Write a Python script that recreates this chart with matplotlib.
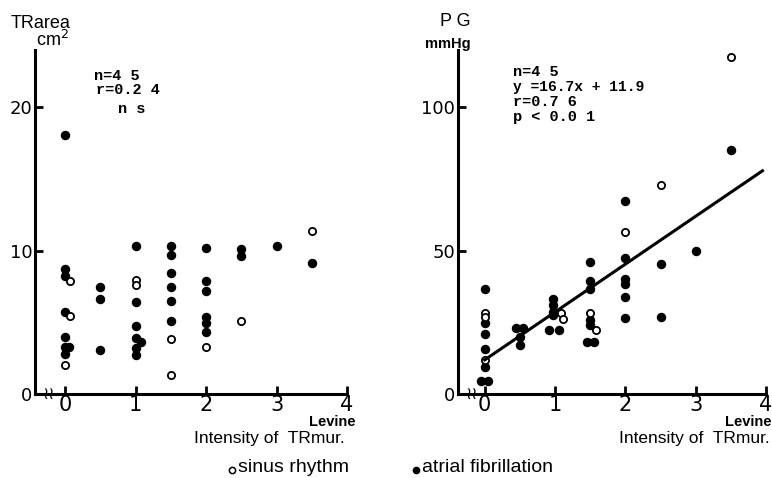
import numpy as np
import matplotlib
matplotlib.use("Agg")
import matplotlib.pyplot as plt
from matplotlib.lines import Line2D

# left panel: TR area (cm2) vs intensity of TR murmur (Levine)
area_af_x = [0, 0, 0, 0, 0, 0, 0.05, 0, 0.5, 0.5, 0.5,
             1, 1, 1, 1, 1.07, 1, 1,
             1.5, 1.5, 1.5, 1.5, 1.5, 1.5,
             2, 2, 2, 2, 2, 2, 2.5, 2.5, 3, 3.5]
area_af_y = [18.1, 8.75, 8.2, 5.75, 4.0, 3.3, 3.3, 2.8, 7.45, 6.65, 3.05,
             10.35, 6.4, 4.75, 3.9, 3.65, 3.2, 2.7,
             10.3, 9.7, 8.45, 7.45, 6.5, 5.1,
             10.2, 7.85, 7.2, 5.35, 4.95, 4.35, 10.15, 9.65, 10.35, 9.15]
area_sr_x = [0.07, 0.07, 0, 1, 1, 1.5, 1.5, 2, 2.5, 3.5]
area_sr_y = [7.85, 5.45, 2.0, 7.95, 7.6, 3.85, 1.35, 3.3, 5.1, 11.4]

# right panel: pressure gradient (mmHg) vs intensity
pg_af_x = [0, 0, 0, 0, 0, -0.05, 0.05, 0.45, 0.55, 0.5, 0.5,
           0.97, 0.97, 0.97, 0.97, 0.92, 1.05,
           1.5, 1.5, 1.5, 1.5, 1.5, 1.45, 1.55,
           2, 2, 2, 2, 2, 2, 2.5, 2.5, 3, 3.5]
pg_af_y = [36.8, 24.6, 20.9, 15.7, 9.5, 4.5, 4.5, 22.9, 22.9, 20.0, 17.1,
           33.3, 31.0, 28.7, 27.5, 22.5, 22.5,
           46.0, 39.5, 36.5, 25.8, 24.0, 18.2, 18.2,
           67.4, 47.3, 40.0, 38.2, 33.9, 26.6, 45.3, 26.9, 49.9, 85.0]
pg_sr_x = [0, 0, 0, 1.09, 1.11, 1.5, 1.58, 2, 2.5, 3.5]
pg_sr_y = [28.3, 26.9, 11.8, 28.1, 26.0, 28.1, 22.3, 56.6, 72.8, 117.5]

slope, intercept = 16.7, 11.9
fit_x = [0, 3.95]

x_ticks = [0, 1, 2, 3, 4]
area_ticks = [0, 10, 20]
pg_ticks = [0, 50, 100]

fig = plt.figure(figsize=(7.72, 4.78), dpi=100)
W, H = 772, 478


def axes_at(x0, x1, y_top, y_bot):
    return fig.add_axes([x0 / W, 1 - y_bot / H, (x1 - x0) / W, (y_bot - y_top) / H])


def style(ax, xlim, ylim, yticks):
    ax.set_xlim(*xlim)
    ax.set_ylim(*ylim)
    for s in ["top", "right"]:
        ax.spines[s].set_visible(False)
    for s in ["left", "bottom"]:
        ax.spines[s].set_linewidth(2.2)
    ax.set_xticks(x_ticks)
    ax.set_yticks(yticks)
    ax.tick_params(direction="in", length=6, width=2, pad=2)
    ax.tick_params(axis="x", labelsize=15, pad=1)
    ax.tick_params(axis="y", labelsize=13, pad=2)
    ax.patch.set_visible(False)
    # axis break mark
    ax.text(0.045, 0.0, "≀≀", transform=ax.transAxes, fontsize=12,
            ha="center", va="center")


def points(ax, fx, fy, ox, oy):
    ax.plot(fx, fy, "o", ms=5.8, color="black", mec="black", clip_on=False)
    ax.plot(ox, oy, "o", ms=5.2, mfc="white", mec="black", mew=1.3, clip_on=False)


mono = dict(family="Liberation Mono", weight="bold", fontsize=11, va="top")

# left panel
ax1 = axes_at(35, 347, 50, 394)
style(ax1, (-0.43, 4), (0, 24), area_ticks)
points(ax1, area_af_x, area_af_y, area_sr_x, area_sr_y)
ax1.text(0.19, 0.945, "n=4 5", transform=ax1.transAxes, **mono)
ax1.text(0.197, 0.905, "r=0.2 4", transform=ax1.transAxes, **mono)
ax1.text(0.265, 0.85, "n s", transform=ax1.transAxes, **mono)

# right panel
ax2 = axes_at(458, 766, 50, 394)
style(ax2, (-0.38, 4), (0, 120), pg_ticks)
points(ax2, pg_af_x, pg_af_y, pg_sr_x, pg_sr_y)
fx = np.array(fit_x)
ax2.plot(fx, slope * fx + intercept, color="black", lw=2.2)
ax2.text(0.179, 0.955, "n=4 5", transform=ax2.transAxes, **mono)
ax2.text(0.179, 0.913, "y =16.7x + 11.9", transform=ax2.transAxes,
         **{**mono, "fontsize": 10.5})
ax2.text(0.179, 0.87, "r=0.7 6", transform=ax2.transAxes, **mono)
ax2.text(0.179, 0.825, "p < 0.0 1", transform=ax2.transAxes, **mono)

# axis titles
sans = "Liberation Sans"
fig.text(41 / W, 1 - 23 / H, "TRarea", family=sans, fontsize=13, ha="center", va="center")
fig.text(52 / W, 1 - 40 / H, "cm$^2$", family=sans, fontsize=13, ha="center", va="center")
fig.text(455 / W, 1 - 22 / H, "P G", family=sans, fontsize=13, ha="center", va="center")
fig.text(448 / W, 1 - 44 / H, "mmHg", family=sans, fontsize=10.5, weight="bold",
         ha="center", va="center")

for right in (356, 771):
    fig.text(right / W, 1 - 422 / H, "Levine", family=sans, fontsize=10.5,
             weight="bold", ha="right", va="center")
for right in (345, 770):
    fig.text(right / W, 1 - 439 / H, "Intensity of  TRmur.", family=sans,
             fontsize=12.5, ha="right", va="center")

# legend
fig.add_artist(Line2D([232 / W], [1 - 470 / H], marker="o", ms=4.5, mfc="white",
                      mec="black", mew=1.1, transform=fig.transFigure))
fig.text(238 / W, 1 - 468 / H, "sinus rhythm", family=sans, fontsize=14,
         ha="left", va="center")
fig.add_artist(Line2D([416 / W], [1 - 470 / H], marker="o", ms=4.5, color="black",
                      transform=fig.transFigure))
fig.text(422 / W, 1 - 468 / H, "atrial fibrillation", family=sans, fontsize=14,
         ha="left", va="center")

fig.savefig("out.png", dpi=100)
